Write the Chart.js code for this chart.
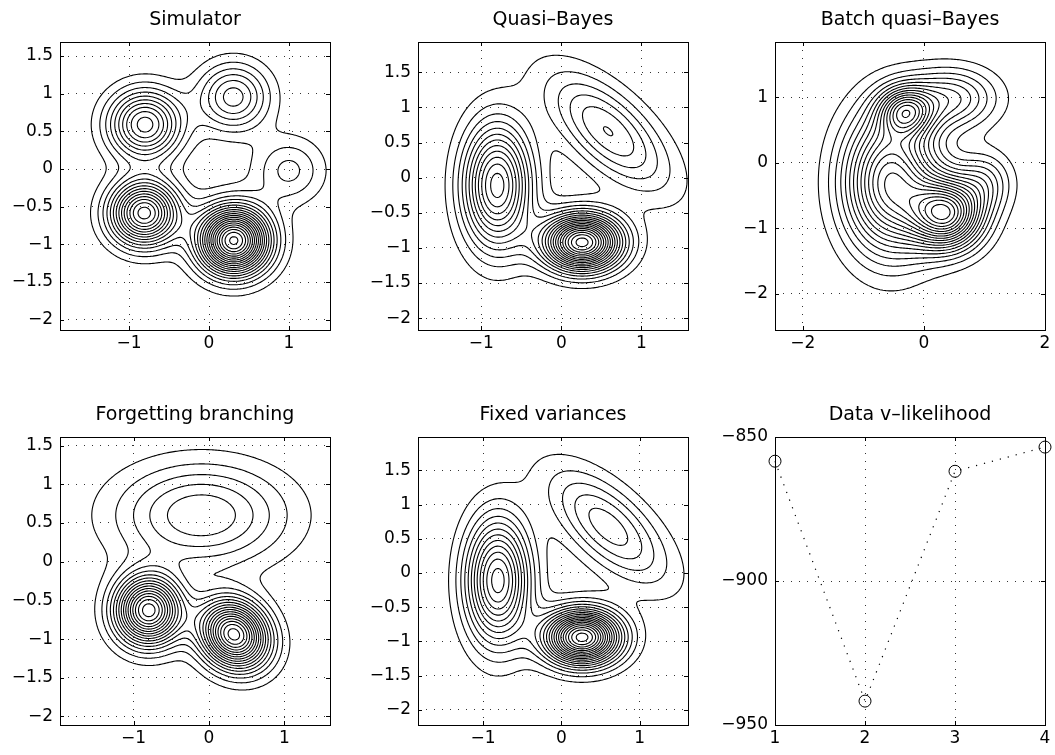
<!DOCTYPE html>
<html>
<head>
<meta charset="utf-8">
<title>Mixture estimation contours</title>
<script src="https://cdn.jsdelivr.net/npm/chart.js@4.4.1/dist/chart.umd.min.js"></script>
<style>
  html, body { margin: 0; padding: 0; background: #fff; width: 1055px; height: 755px; overflow: hidden; }
  canvas { position: absolute; }
</style>
</head>
<body>
<canvas id="simChart"></canvas>
<canvas id="qbChart"></canvas>
<canvas id="batchChart"></canvas>
<canvas id="forgetChart"></canvas>
<canvas id="fixedChart"></canvas>
<canvas id="likChart"></canvas>
<script>
// contour levels, density measured in contour steps
const contourLevels = [1, 2, 3, 4, 5, 6, 7, 8, 9, 10, 11, 12, 13, 14, 15, 16, 17, 18, 19, 20, 21, 22, 23, 24];

// tick labels
const halfTicks = [-2, -1.5, -1, -0.5, 0, 0.5, 1, 1.5];
const unitTicks = [-1, 0, 1];

// Simulator: mixture components
const simMeanX = [-0.80, 0.305, -0.81, 0.31, 1.0];
const simMeanY = [0.59, 0.957, -0.585, -0.95, -0.02];
const simSdX = [0.31, 0.30, 0.29, 0.30, 0.30];
const simSdY = [0.31, 0.30, 0.29, 0.30, 0.30];
const simRho = [0, 0, 0, 0, 0];
const simPeak = [10.5, 6.5, 14.5, 20.3, 3.3];
const simXRange = [-1.8625, 1.5125];
const simYRange = [-2.137, 1.686];

// Quasi-Bayes
const qbMeanX = [-0.80, 0.26, 0.585];
const qbMeanY = [-0.11, -0.92, 0.66];
const qbSdX = [0.29, 0.33, 0.52];
const qbSdY = [0.60, 0.27, 0.57];
const qbRho = [0, 0, -0.65];
const qbPeak = [12.5, 19.5, 6.04];
const qbXRange = [-1.79, 1.583];
const qbYRange = [-2.168, 1.931];

// Batch quasi-Bayes
const batchMeanX = [-0.55, 0.38, -0.3, 0.45, 1.0];
const batchMeanY = [-0.3, -0.78, 0.78, 0.98, -0.3];
const batchSdX = [0.52, 0.40, 0.30, 0.50, 0.31];
const batchSdY = [0.72, 0.36, 0.25, 0.31, 0.31];
const batchRho = [0, 0, 0, 0, 0];
const batchPeak = [14, 16, 9.5, 6, 4];
const batchXRange = [-2.46, 2.0];
const batchYRange = [-2.552, 1.84];
const batchXTicks = [-2, 0, 2];
const batchYTicks = [-2, -1, 0, 1];

// Forgetting branching
const fbMeanX = [-0.80, 0.33, -0.10];
const fbMeanY = [-0.63, -0.94, 0.60];
const fbSdX = [0.30, 0.31, 0.77];
const fbSdY = [0.30, 0.30, 0.45];
const fbRho = [0, -0.15, 0];
const fbPeak = [16.5, 17.5, 5.93];
const fbXRange = [-1.974, 1.603];
const fbYRange = [-2.11, 1.611];

// Fixed variances
const fvMeanX = [-0.81, 0.265, 0.60];
const fvMeanY = [-0.11, -0.94, 0.675];
const fvSdX = [0.28, 0.33, 0.52];
const fvSdY = [0.62, 0.27, 0.57];
const fvRho = [0, 0, -0.65];
const fvPeak = [12.5, 19.5, 5.6];
const fvXRange = [-1.83, 1.617];
const fvYRange = [-2.222, 1.988];

// Data v-likelihood
const likRuns = [1, 2, 3, 4];
const likValues = [-858.4, -941.7, -861.9, -853.5];
const likXTicks = [1, 2, 3, 4];
const likYTicks = [-950, -900, -850];

const FONT = "'DejaVu Sans', sans-serif";
const BOX_W = 270, BOX_H = 288;
const PAD_L = 70, PAD_T = 42, PAD_R = 16, PAD_B = 30;

function density(c, x, y) {
  let s = 0;
  for (let k = 0; k < c.mx.length; k++) {
    const u = (x - c.mx[k]) / c.sx[k], v = (y - c.my[k]) / c.sy[k], r = c.rho[k];
    s += c.peak[k] * Math.exp(-(u * u + v * v - 2 * r * u * v) / (2 * (1 - r * r)));
  }
  return s;
}

// marching squares, segments chained into polylines, NaN between lines
function contourData(c, xr, yr, n) {
  const nx = n, ny = n, w = nx + 1;
  const dx = (xr[1] - xr[0]) / nx, dy = (yr[1] - yr[0]) / ny;
  const g = new Float64Array(w * (ny + 1));
  for (let j = 0; j <= ny; j++)
    for (let i = 0; i <= nx; i++)
      g[j * w + i] = density(c, xr[0] + i * dx, yr[0] + j * dy);

  const out = [];
  for (const L of contourLevels) {
    const segA = [], segB = [], byEdge = new Map();
    const add = (a, b) => {
      const s = segA.length;
      segA.push(a); segB.push(b);
      if (!byEdge.has(a)) byEdge.set(a, []);
      if (!byEdge.has(b)) byEdge.set(b, []);
      byEdge.get(a).push(s); byEdge.get(b).push(s);
    };
    for (let j = 0; j < ny; j++) {
      for (let i = 0; i < nx; i++) {
        const k = j * w + i;
        const bl = g[k], br = g[k + 1], tr = g[k + w + 1], tl = g[k + w];
        const cs = (bl > L ? 1 : 0) | (br > L ? 2 : 0) | (tr > L ? 4 : 0) | (tl > L ? 8 : 0);
        if (cs === 0 || cs === 15) continue;
        const B = 2 * k, T = 2 * (k + w), Le = 2 * k + 1, R = 2 * (k + 1) + 1;
        const mid = (bl + br + tr + tl) / 4;
        switch (cs) {
          case 1: case 14: add(Le, B); break;
          case 2: case 13: add(B, R); break;
          case 3: case 12: add(Le, R); break;
          case 4: case 11: add(R, T); break;
          case 6: case 9: add(B, T); break;
          case 7: case 8: add(Le, T); break;
          case 5:
            if (mid > L) { add(B, R); add(Le, T); } else { add(Le, B); add(R, T); }
            break;
          case 10:
            if (mid > L) { add(Le, B); add(R, T); } else { add(B, R); add(Le, T); }
            break;
        }
      }
    }
    const pt = key => {
      const k = key >> 1, i = k % w, j = (k - i) / w;
      if ((key & 1) === 0) {
        const a = g[k], b = g[k + 1], t = (L - a) / (b - a);
        return { x: xr[0] + (i + t) * dx, y: yr[0] + j * dy };
      }
      const a = g[k], b = g[k + w], t = (L - a) / (b - a);
      return { x: xr[0] + i * dx, y: yr[0] + (j + t) * dy };
    };
    const used = new Uint8Array(segA.length);
    const walk = start => {
      const line = [];
      let cur = start;
      for (;;) {
        let nxt = -1;
        for (const s of byEdge.get(cur)) if (!used[s]) { nxt = s; break; }
        if (nxt < 0) break;
        used[nxt] = 1;
        cur = segA[nxt] === cur ? segB[nxt] : segA[nxt];
        line.push(cur);
      }
      return line;
    };
    for (let s = 0; s < segA.length; s++) {
      if (used[s]) continue;
      used[s] = 1;
      const fwd = walk(segB[s]);
      const back = walk(segA[s]).reverse();
      back.concat([segA[s], segB[s]], fwd).forEach(key => out.push(pt(key)));
      out.push({ x: NaN, y: NaN });
    }
  }
  return out;
}

const fmt = v => String(v).replace("-", "\u2212");

// box with inward ticks on all four sides, like the original figure
const boxPlugin = {
  id: "box",
  afterDatasetsDraw(chart) {
    const { ctx, chartArea: a, scales } = chart;
    ctx.save();
    ctx.strokeStyle = "#000";
    ctx.lineWidth = 1;
    ctx.setLineDash([]);
    ctx.strokeRect(a.left + 0.5, a.top + 0.5, a.right - a.left, a.bottom - a.top);
    ctx.beginPath();
    scales.x.ticks.forEach(t => {
      const px = Math.round(scales.x.getPixelForValue(t.value)) + 0.5;
      ctx.moveTo(px, a.bottom); ctx.lineTo(px, a.bottom - 4);
      ctx.moveTo(px, a.top); ctx.lineTo(px, a.top + 4);
    });
    scales.y.ticks.forEach(t => {
      const py = Math.round(scales.y.getPixelForValue(t.value)) + 0.5;
      ctx.moveTo(a.left, py); ctx.lineTo(a.left + 4, py);
      ctx.moveTo(a.right, py); ctx.lineTo(a.right - 4, py);
    });
    ctx.stroke();
    ctx.restore();
  }
};

function axis(range, ticks, horiz) {
  return {
    type: "linear",
    min: range[0],
    max: range[1],
    afterBuildTicks: s => { s.ticks = ticks.map(v => ({ value: v })); },
    afterFit: s => { if (horiz) s.height = PAD_B; else s.width = PAD_L; },
    grid: { color: "#333", lineWidth: 1, drawTicks: false },
    border: { display: false, dash: [1, 7] },
    ticks: {
      color: "#000",
      font: { family: FONT, size: 17 },
      padding: horiz ? 3 : 7,
      maxRotation: 0,
      autoSkip: false,
      callback: v => fmt(v)
    }
  };
}

function makeChart(id, title, left, top, xr, yr, xt, yt, datasets) {
  const cv = document.getElementById(id);
  cv.width = BOX_W + PAD_L + PAD_R;
  cv.height = BOX_H + PAD_T + PAD_B;
  cv.style.left = (left - PAD_L) + "px";
  cv.style.top = (top - PAD_T) + "px";
  return new Chart(cv, {
    type: "scatter",
    data: { datasets },
    options: {
      responsive: false,
      animation: false,
      events: [],
      layout: { padding: { left: 0, right: PAD_R, top: 0, bottom: 0 } },
      plugins: {
        legend: { display: false },
        tooltip: { enabled: false },
        title: {
          display: true,
          fullSize: false,
          text: title,
          color: "#000",
          font: { family: FONT, size: 19, weight: "normal", lineHeight: "24px" },
          padding: { top: 8, bottom: 10 }
        }
      },
      scales: { x: axis(xr, xt, true), y: axis(yr, yt, false) }
    },
    plugins: [boxPlugin]
  });
}

function contourSet(comp, xr, yr) {
  return [{
    data: contourData(comp, xr, yr, 180),
    showLine: true,
    spanGaps: false,
    pointRadius: 0,
    borderColor: "#000",
    borderWidth: 1.1,
    // a dash with no gap keeps Chart.js off its column-merging fast path
    borderDash: [4000, 0],
    borderJoinStyle: "round"
  }];
}

const panels = [
  { id: "simChart", title: "Simulator", left: 60, top: 42, xr: simXRange, yr: simYRange, xt: unitTicks, yt: halfTicks,
    comp: { mx: simMeanX, my: simMeanY, sx: simSdX, sy: simSdY, rho: simRho, peak: simPeak } },
  { id: "qbChart", title: "Quasi\u2013Bayes", left: 418, top: 42, xr: qbXRange, yr: qbYRange, xt: unitTicks, yt: halfTicks,
    comp: { mx: qbMeanX, my: qbMeanY, sx: qbSdX, sy: qbSdY, rho: qbRho, peak: qbPeak } },
  { id: "batchChart", title: "Batch quasi\u2013Bayes", left: 775, top: 42, xr: batchXRange, yr: batchYRange, xt: batchXTicks, yt: batchYTicks,
    comp: { mx: batchMeanX, my: batchMeanY, sx: batchSdX, sy: batchSdY, rho: batchRho, peak: batchPeak } },
  { id: "forgetChart", title: "Forgetting branching", left: 60, top: 437, xr: fbXRange, yr: fbYRange, xt: unitTicks, yt: halfTicks,
    comp: { mx: fbMeanX, my: fbMeanY, sx: fbSdX, sy: fbSdY, rho: fbRho, peak: fbPeak } },
  { id: "fixedChart", title: "Fixed variances", left: 418, top: 437, xr: fvXRange, yr: fvYRange, xt: unitTicks, yt: halfTicks,
    comp: { mx: fvMeanX, my: fvMeanY, sx: fvSdX, sy: fvSdY, rho: fvRho, peak: fvPeak } }
];

panels.forEach(p => {
  makeChart(p.id, p.title, p.left, p.top, p.xr, p.yr, p.xt, p.yt, contourSet(p.comp, p.xr, p.yr));
});

makeChart("likChart", "Data v\u2013likelihood", 775, 437, [1, 4], [-950, -850], likXTicks, likYTicks, [{
  data: likRuns.map((r, i) => ({ x: r, y: likValues[i] })),
  showLine: true,
  borderColor: "#000",
  borderWidth: 1.2,
  borderDash: [1.2, 7],
  pointStyle: "circle",
  pointRadius: 6,
  pointBorderColor: "#000",
  pointBackgroundColor: "rgba(0,0,0,0)",
  pointBorderWidth: 1,
  clip: false
}]);
</script>
</body>
</html>
